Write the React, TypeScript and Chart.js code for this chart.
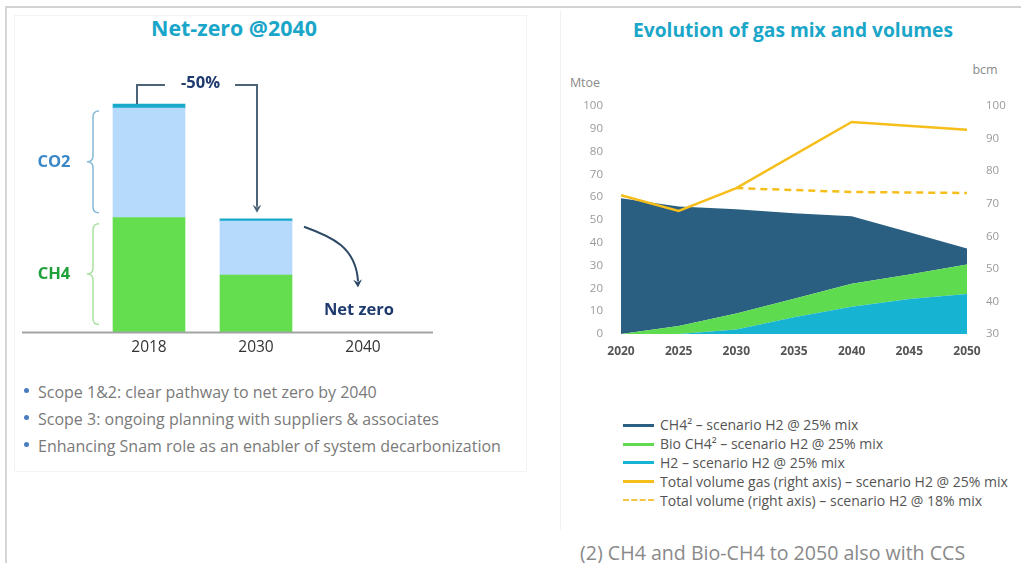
import React, { useEffect, useRef } from "react";
import { Chart, registerables } from "chart.js";

Chart.register(...registerables);

// ---------- Left chart data (emissions, arbitrary units) ----------
const barCategories = ["2018", "2030", "2040"];
const ch4Emissions = [50, 25, 0];
const co2Emissions = [47.7, 23.5, 0];
const capEmissions = [1.8, 1.0, 0];

// ---------- Right chart data ----------
const years = ["2020", "2025", "2030", "2035", "2040", "2045", "2050"];
const h2Mtoe = [0, 0, 2, 7.3, 12, 15.3, 17.5];
const bioCh4Mtoe = [0, 3.5, 7, 8.2, 10, 10.8, 13];
const ch4Mtoe = [59.5, 52.4, 45.7, 37.5, 29.6, 18.5, 7];
const totalGas25 = [72.6, 67.8, 74.8, null, 95.1, null, 92.7];
const totalGas18 = [null, null, 74.8, null, 73.6, null, 73.3];
const leftAxisTicks = { min: 0, max: 100, step: 10 };
const rightAxisTicks = { min: 30, max: 100, step: 10 };

const bullets = [
  "Scope 1&2: clear pathway to net zero by 2040",
  "Scope 3: ongoing planning with suppliers & associates",
  "Enhancing Snam role as an enabler of system decarbonization",
];

const legendItems = [
  { label: "CH4\u00b2 \u2013 scenario H2 @ 25% mix", color: "#2B5F82", dashed: false },
  { label: " Bio CH4\u00b2 \u2013 scenario H2 @ 25% mix", color: "#5EDB4F", dashed: false },
  { label: "H2 \u2013 scenario H2 @ 25% mix", color: "#17B3D3", dashed: false },
  { label: "Total volume gas (right axis) \u2013 scenario H2 @ 25% mix", color: "#F6BE1A", dashed: false },
  { label: "Total volume (right axis) \u2013 scenario H2 @ 18% mix", color: "#F6C443", dashed: true },
];

const FONT = "'Open Sans', 'Noto Sans', sans-serif";

function drawArrowHead(ctx: CanvasRenderingContext2D, x: number, y: number, angle: number, size: number, color: string) {
  ctx.save();
  ctx.translate(x, y);
  ctx.rotate(angle);
  ctx.beginPath();
  ctx.moveTo(0, 0);
  ctx.lineTo(-size, -size * 0.55);
  ctx.lineTo(-size * 0.65, 0);
  ctx.lineTo(-size, size * 0.55);
  ctx.closePath();
  ctx.fillStyle = color;
  ctx.fill();
  ctx.restore();
}

function drawBrace(ctx: CanvasRenderingContext2D, x: number, top: number, bottom: number, r: number, color: string) {
  const mid = (top + bottom) / 2;
  ctx.save();
  ctx.strokeStyle = color;
  ctx.lineWidth = 1.5;
  ctx.beginPath();
  ctx.moveTo(x + r, top);
  ctx.quadraticCurveTo(x, top, x, top + r);
  ctx.lineTo(x, mid - r);
  ctx.quadraticCurveTo(x, mid, x - r, mid);
  ctx.quadraticCurveTo(x, mid, x, mid + r);
  ctx.lineTo(x, bottom - r);
  ctx.quadraticCurveTo(x, bottom, x + r, bottom);
  ctx.stroke();
  ctx.restore();
}

const leftAnnotations = {
  id: "leftAnnotations",
  afterDatasetsDraw(chart: any) {
    const ctx: CanvasRenderingContext2D = chart.ctx;
    const xs = chart.scales.x;
    const ys = chart.scales.y;
    const area = chart.chartArea;
    const x18 = xs.getPixelForValue(0);
    const x30 = xs.getPixelForValue(1);
    const x40 = xs.getPixelForValue(2);
    const half = 36;
    const base = ys.getPixelForValue(0);
    const top18 = ys.getPixelForValue(ch4Emissions[0] + co2Emissions[0] + capEmissions[0]);
    const top30 = ys.getPixelForValue(ch4Emissions[1] + co2Emissions[1] + capEmissions[1]);
    const mid18 = ys.getPixelForValue(ch4Emissions[0]);

    ctx.save();
    // baseline
    ctx.strokeStyle = "#A3A3A3";
    ctx.lineWidth = 2;
    ctx.beginPath();
    ctx.moveTo(area.left - 73.5, base);
    ctx.lineTo(area.right + 16.5, base);
    ctx.stroke();

    // -50% bracket
    const yb = top18 - 19;
    const bracketColor = "#4D6478";
    ctx.strokeStyle = bracketColor;
    ctx.lineWidth = 2;
    ctx.beginPath();
    ctx.moveTo(x18 - 12, top18);
    ctx.lineTo(x18 - 12, yb);
    ctx.lineTo(x18 + 16, yb);
    ctx.stroke();
    ctx.beginPath();
    ctx.moveTo(x30 - 21, yb);
    ctx.lineTo(x30 + 1, yb);
    ctx.lineTo(x30 + 1, top30 - 12);
    ctx.stroke();
    drawArrowHead(ctx, x30 + 1, top30 - 6, Math.PI / 2, 8, bracketColor);

    ctx.fillStyle = "#1F3A6E";
    ctx.font = `bold 16.5px ${FONT}`;
    ctx.textAlign = "center";
    ctx.textBaseline = "middle";
    ctx.fillText("-50%", (x18 + x30) / 2 - 2, yb - 2);

    // curved arrow to net zero
    const sx = x30 + half + 12;
    const sy = top30 + 8;
    const ex = x40 - 5;
    const ey = base - 45;
    ctx.strokeStyle = "#2E4A66";
    ctx.lineWidth = 2;
    ctx.beginPath();
    ctx.moveTo(sx, sy);
    ctx.bezierCurveTo(sx + 28, sy + 10, ex - 2, ey - 40, ex, ey - 6);
    ctx.stroke();
    drawArrowHead(ctx, ex, ey, Math.PI / 2 - 0.05, 8, "#2E4A66");

    ctx.fillStyle = "#1F3A6E";
    ctx.font = `bold 16.5px ${FONT}`;
    ctx.fillText("Net zero", x40 - 4, base - 22);

    // braces
    drawBrace(ctx, x18 - half - 20, top18 + 7, mid18 - 5, 6, "#86B9D6");
    drawBrace(ctx, x18 - half - 20, mid18 + 6, base - 8, 6, "#A9E2A0");
    ctx.font = `bold 16.5px ${FONT}`;
    ctx.fillStyle = "#3A87C8";
    ctx.fillText("CO2", x18 - 95, (top18 + 7 + mid18 - 5) / 2);
    ctx.fillStyle = "#1FA03A";
    ctx.fillText("CH4", x18 - 95, (mid18 + 6 + base - 8) / 2);
    ctx.restore();
  },
};

function LeftChart() {
  const ref = useRef<HTMLCanvasElement | null>(null);
  useEffect(() => {
    const chart = new Chart(ref.current as HTMLCanvasElement, {
      type: "bar",
      data: {
        labels: barCategories,
        datasets: [
          { label: "CH4", data: ch4Emissions, backgroundColor: "#64DE4F", borderWidth: 0, barThickness: 72 },
          { label: "CO2", data: co2Emissions, backgroundColor: "#B6DAFB", borderWidth: 0, barThickness: 72 },
          { label: "Cap", data: capEmissions, backgroundColor: "#19A9C9", borderWidth: 0, barThickness: 72 },
        ],
      },
      options: {
        animation: false,
        responsive: false,
        maintainAspectRatio: false,
        layout: { padding: { left: 95.5, right: 123.5, top: 57, bottom: 9 } },
        plugins: { legend: { display: false }, tooltip: { enabled: false }, title: { display: false } },
        scales: {
          x: {
            stacked: true,
            grid: { display: false, drawTicks: false },
            border: { display: false },
            ticks: { color: "#333", font: { family: FONT, size: 15.5 }, padding: 6 },
          },
          y: { stacked: true, display: false, min: 0, max: 120 },
        },
      },
      plugins: [leftAnnotations],
    });
    return () => chart.destroy();
  }, []);
  return <canvas ref={ref} width={540} height={372} style={{ position: "absolute", left: 0, top: 0, width: 540, height: 372 }} />;
}

function RightChart() {
  const ref = useRef<HTMLCanvasElement | null>(null);
  useEffect(() => {
    const chart = new Chart(ref.current as HTMLCanvasElement, {
      type: "line",
      data: {
        labels: years,
        datasets: [
          {
            label: "Total volume gas (right axis) – scenario H2 @ 25% mix",
            data: totalGas25,
            yAxisID: "yR",
            borderColor: "#F6BE1A",
            borderWidth: 2.5,
            pointRadius: 0,
            spanGaps: true,
            fill: false,
            tension: 0,
          },
          {
            label: "Total volume (right axis) – scenario H2 @ 18% mix",
            data: totalGas18,
            yAxisID: "yR",
            borderColor: "#F6BE1A",
            borderWidth: 2.5,
            borderDash: [7, 5],
            pointRadius: 0,
            spanGaps: true,
            fill: false,
            tension: 0,
          },
          {
            label: "H2",
            data: h2Mtoe,
            yAxisID: "y",
            borderWidth: 0,
            borderColor: "#17B3D3",
            backgroundColor: "#17B3D3",
            pointRadius: 0,
            fill: "origin",
            tension: 0,
          },
          {
            label: "Bio CH4",
            data: bioCh4Mtoe,
            yAxisID: "y",
            borderWidth: 0,
            borderColor: "#5EDB4F",
            backgroundColor: "#5EDB4F",
            pointRadius: 0,
            fill: "-1",
            tension: 0,
          },
          {
            label: "CH4",
            data: ch4Mtoe,
            yAxisID: "y",
            borderWidth: 0,
            borderColor: "#2B5F82",
            backgroundColor: "#2B5F82",
            pointRadius: 0,
            fill: "-1",
            tension: 0,
          },
        ],
      },
      options: {
        animation: false,
        responsive: false,
        maintainAspectRatio: false,
        layout: { padding: { top: 46, bottom: 3.6, left: 0, right: 0 } },
        plugins: { legend: { display: false }, tooltip: { enabled: false }, title: { display: false } },
        scales: {
          x: {
            grid: { display: false, drawTicks: false },
            border: { display: false },
            ticks: { color: "#555", font: { family: FONT, size: 12, weight: "bold" }, padding: 10 },
          },
          y: {
            position: "left",
            stacked: true,
            min: leftAxisTicks.min,
            max: leftAxisTicks.max,
            grid: { display: false, drawTicks: false },
            border: { display: false },
            ticks: { stepSize: leftAxisTicks.step, color: "#9A9A9A", font: { family: FONT, size: 11.5 }, padding: 18 },
            afterFit: (s: any) => { s.width = 61; },
          },
          yR: {
            position: "right",
            min: rightAxisTicks.min,
            max: rightAxisTicks.max,
            grid: { display: false, drawTicks: false },
            border: { display: false },
            ticks: { stepSize: rightAxisTicks.step, color: "#9A9A9A", font: { family: FONT, size: 11.5 }, padding: 19 },
            afterFit: (s: any) => { s.width = 54; },
          },
        },
      },
    });
    return () => chart.destroy();
  }, []);
  return <canvas ref={ref} width={461} height={312} style={{ position: "absolute", left: 560, top: 60, width: 461, height: 312 }} />;
}

const abs = (o: any) => ({ position: "absolute", fontFamily: FONT, whiteSpace: "nowrap", ...o });

export default function App() {
  const bulletY = [392, 419, 446];
  const legendY = [425, 444, 462.5, 481.5, 500.5];
  return (
    <div style={{ position: "fixed", left: 0, top: 0, width: 1021, height: 563, background: "#fff", overflow: "hidden" }}>
      {/* frame */}
      <div style={abs({ left: 6, top: 6, right: 0, height: 2, background: "#D2D2D2" })} />
      <div style={abs({ left: 5, top: 6, bottom: 0, width: 2, background: "#D6D6D6" })} />
      <div style={abs({ left: 14, top: 15, width: 511, height: 455, border: "1px solid #F4F4F4" })} />
      <div style={abs({ left: 560, top: 10, width: 1, height: 520, background: "#F2F2F2" })} />

      {/* left title */}
      <div style={abs({ left: 84, top: 14, width: 300, textAlign: "center", fontSize: 21.4, lineHeight: "28px", fontWeight: 700, color: "#1AA6C8" })}>
        Net-zero @2040
      </div>
      <LeftChart />
      {bullets.map((b, i) => (
        <React.Fragment key={b}>
          <div style={abs({ left: 24, top: bulletY[i] - 4, width: 4.5, height: 4.5, borderRadius: 3, background: "#4A7CC0" })} />
          <div style={abs({ left: 38, top: bulletY[i] - 12, fontSize: 16, lineHeight: "24px", color: "#7A7A7A" })}>{b}</div>
        </React.Fragment>
      ))}

      {/* right title */}
      <div style={abs({ left: 593, top: 16, width: 400, textAlign: "center", fontSize: 19.2, lineHeight: "28px", fontWeight: 700, color: "#1AA6C8" })}>
        Evolution of gas mix and volumes
      </div>
      <div style={abs({ left: 565, top: 74, width: 40, textAlign: "center", fontSize: 12.5, lineHeight: "18px", color: "#8A8A8A" })}>Mtoe</div>
      <div style={abs({ left: 965, top: 61, width: 40, textAlign: "center", fontSize: 12.5, lineHeight: "18px", color: "#8A8A8A" })}>bcm</div>
      <RightChart />

      {legendItems.map((it, i) => (
        <React.Fragment key={it.label}>
          <div
            style={abs({
              left: 623,
              top: legendY[i] - 1.5,
              width: 31,
              height: 0,
              borderTop: it.dashed ? `2px dashed ${it.color}` : `3px solid ${it.color}`,
            })}
          />
          <div style={abs({ left: 660, top: legendY[i] - 10, fontSize: 14, lineHeight: "20px", color: "#555" })}>{it.label}</div>
        </React.Fragment>
      ))}

      <div style={abs({ left: 580, top: 540, fontSize: 19.6, lineHeight: "26px", color: "#8A8A8A" })}>
        (2) CH4 and Bio-CH4 to 2050 also with CCS
      </div>
    </div>
  );
}
